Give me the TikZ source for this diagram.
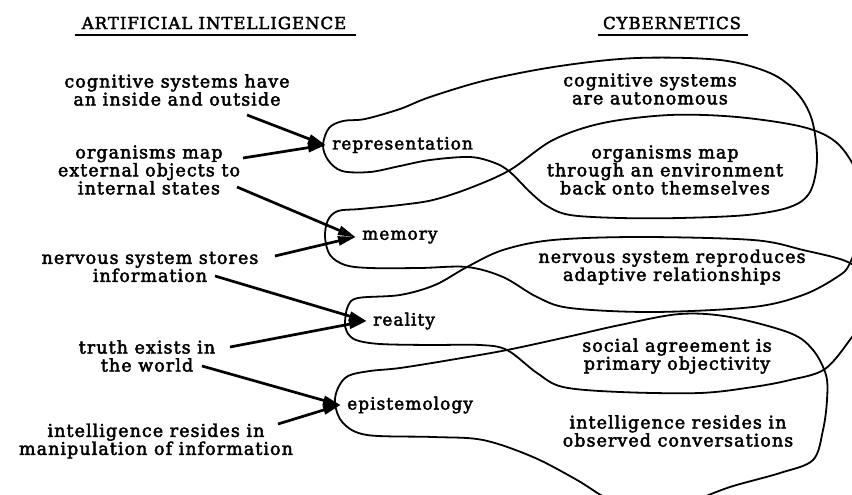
\documentclass[tikz,border=0pt]{standalone}
\usepackage{fontspec}
\setmainfont{DejaVu Serif}[LetterSpace=6, FakeBold=2.5]
\usetikzlibrary{arrows.meta}
\begin{document}
\begin{tikzpicture}[x=1pt,y=-1pt,
  txt/.style={align=center, inner sep=0pt, font=\fontsize{17.5}{18}\selectfont},
  head/.style={inner sep=0pt, font=\fontsize{16.5}{18}\selectfont},
  concept/.style={anchor=west, inner xsep=7pt, inner ysep=0pt, font=\fontsize{17}{18}\selectfont},
  feed/.style={line width=2.7pt, -{Triangle[length=18pt,width=9pt]}, shorten >=-1pt},
  loopline/.style={line width=1.8pt, line join=round}]
\fill[white] (0,0) rectangle (852,495);
\useasboundingbox (0,0) rectangle (852,495);
\clip (0,0) rectangle (852,495);

% column headings
\node[head] (hAI) at (214,23) {ARTIFICIAL INTELLIGENCE};
\node[head] (hCY) at (672,23) {CYBERNETICS};
\draw[line width=2pt] (75,35) -- (356,35);
\draw[line width=2pt] (598,35) -- (748,35);

% artificial-intelligence statements
\node[txt] (ai1) at (177,90) {cognitive systems have\\an inside and outside};
\node[txt] (ai2) at (149,170) {organisms map\\external objects to\\internal states};
\node[txt] (ai3) at (150,267) {nervous system stores\\information};
\node[txt] (ai4) at (147,356) {truth exists in\\the world};
\node[txt] (ai5) at (156,441) {intelligence resides in\\manipulation of information};

% cybernetics statements
\node[txt] (cy1) at (650,89) {cognitive systems\\are autonomous};
\node[txt] (cy2) at (665,170) {organisms map\\through an environment\\back onto themselves};
\node[txt] (cy3) at (672,267) {nervous system reproduces\\adaptive relationships};
\node[txt] (cy4) at (677,356) {social agreement is\\primary objectivity};
\node[txt] (cy5) at (678,431) {intelligence resides in\\observed conversations};

% the four concepts
\node[concept] (rep) at (325,145) {representation};
\node[concept] (mem) at (355,237) {memory};
\node[concept] (rea) at (366,321) {reality};
\node[concept] (epi) at (340,405) {epistemology};

% loose ends of the feeding arrows
\coordinate (s1) at (247,115);
\coordinate (s2) at (243,158);
\coordinate (s3) at (237,187);
\coordinate (s4) at (275,256);
\coordinate (s5) at (215,276);
\coordinate (s6) at (230,347);
\coordinate (s7) at (202,366);
\coordinate (s8) at (278,424);

\draw[feed] (s1) -- (rep.west);
\draw[feed] (s2) -- (rep.west);
\draw[feed] (s3) -- (mem.west);
\draw[feed] (s4) -- (mem.west);
\draw[feed] (s5) -- (rea.west);
\draw[feed] (s6) -- (rea.west);
\draw[feed] (s7) -- (epi.west);
\draw[feed] (s8) -- (epi.west);

% loop around representation
\draw[loopline] plot[smooth cycle, tension=0.55] coordinates {
 (323,145) (329,128) (343,121) (365,119) (400,109) (430,97) (487,80) (560,66)
 (637,58) (720,60) (770,73) (797,93) (812,120) (817,160) (810,192) (790,207)
 (747,215) (680,218) (620,218) (570,215) (547,206) (530,192) (510,172)
 (495,163) (470,157) (430,160) (400,166) (370,172) (342,171) (328,160)};

% loop around memory
\draw[loopline] plot[smooth cycle, tension=0.55] coordinates {
 (325,237) (328,220) (338,211) (360,209) (400,205) (433,200) (470,188)
 (510,170) (553,140) (603,123) (670,115) (737,117) (803,127) (837,143)
 (858,175) (866,215) (850,263) (837,277) (803,295) (753,307) (653,312)
 (570,308) (537,297) (503,277) (467,267) (420,268) (370,268) (345,265) (330,255)};

% loop around reality
\draw[loopline] plot[smooth cycle, tension=0.55] coordinates {
 (345,322) (348,306) (358,298) (400,295) (435,285) (467,267) (503,250)
 (553,240) (640,237) (753,240) (803,250) (850,263) (868,285) (866,315)
 (852,337) (825,369) (790,380) (753,387) (700,393) (620,392) (563,387)
 (537,373) (507,350) (480,345) (430,345) (380,344) (356,340) (347,332)};

% loop around epistemology
\draw[loopline] plot[smooth cycle, tension=0.55] coordinates {
 (335,404) (338,388) (348,376) (370,371) (400,368) (450,360) (507,350)
 (567,337) (620,325) (680,314) (730,317) (790,333) (813,350) (826,375)
 (827,400) (823,430) (813,460) (780,473) (730,487) (690,502) (650,512)
 (610,500) (577,480) (533,457) (483,440) (433,437) (367,435) (343,423)};
\end{tikzpicture}
\end{document}
